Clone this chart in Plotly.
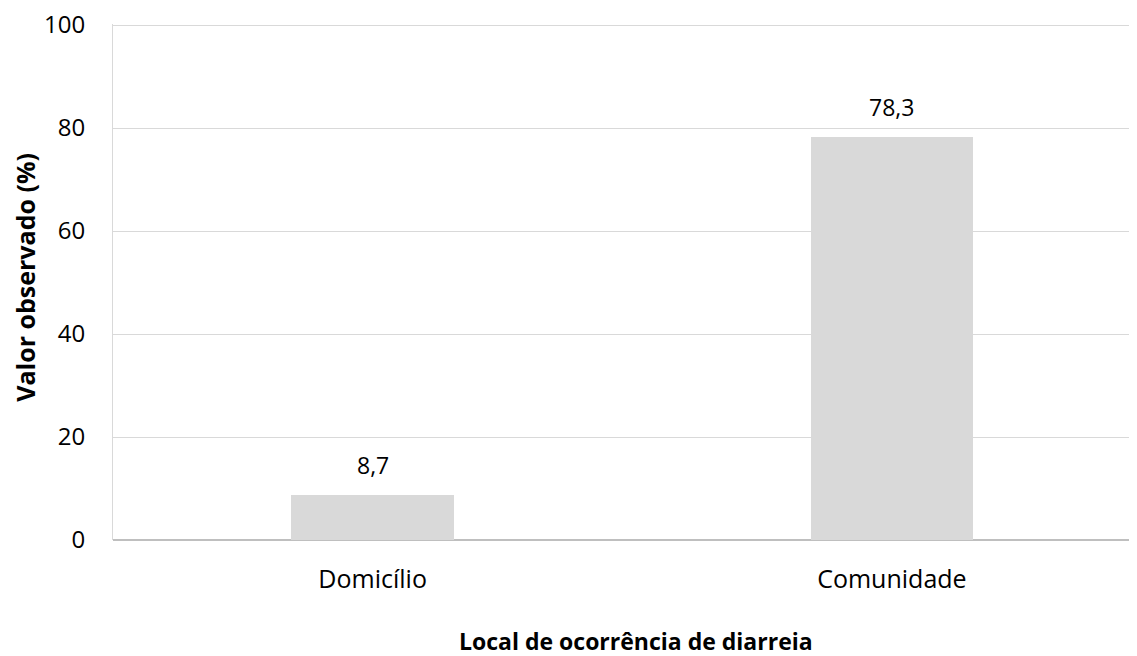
import plotly.graph_objects as go

categories = ["Domicílio", "Comunidade"]
values = [8.7, 78.3]
y_ticks = [0, 20, 40, 60, 80, 100]

FONT = "Open Sans"

fig = go.Figure()
fig.add_trace(go.Bar(
    x=categories, y=values,
    marker=dict(color="#d9d9d9", line=dict(width=0)),
    width=0.313,
    hoverinfo="skip",
))

for c, v in zip(categories, values):
    fig.add_annotation(
        x=c, y=v, xref="x", yref="y",
        text=f"{v:.1f}".replace(".", ","),
        showarrow=False, yanchor="bottom", yshift=12,
        font=dict(family=FONT, size=23, color="#000000"),
    )

fig.add_annotation(
    x=0.511, y=-0.196, xref="paper", yref="paper",
    text="<b>Local de ocorrência de diarreia</b>",
    showarrow=False, xanchor="center", yanchor="middle",
    font=dict(family=FONT, size=23, color="#000000"),
)
fig.add_annotation(
    x=-0.086, y=0.51, xref="paper", yref="paper",
    text="<b>Valor observado (%)</b>", textangle=-90,
    showarrow=False, xanchor="center", yanchor="middle",
    font=dict(family=FONT, size=25, color="#000000"),
)

# page body adds an 8px margin, so the figure is 8px smaller than the window
fig.update_layout(
    width=1129, height=648,
    margin=dict(l=105, r=0, t=16, b=116),
    paper_bgcolor="white", plot_bgcolor="white",
    showlegend=False,
    bargap=0,
)
fig.update_xaxes(
    type="category", range=[-0.5, 1.472],
    showgrid=False, showline=False, zeroline=False,
    ticks="", ticklabelstandoff=22,
    tickfont=dict(family=FONT, size=25, color="#000000"),
)
fig.update_yaxes(
    range=[0, 100.2], tickvals=y_ticks, ticktext=[str(t) for t in y_ticks],
    showgrid=True, gridcolor="#d9d9d9", gridwidth=1,
    zeroline=True, zerolinecolor="#bfbfbf", zerolinewidth=1.5,
    showline=True, linecolor="#d9d9d9", linewidth=1,
    ticks="", ticklabelstandoff=22, ticklabeloverflow="allow",
    tickfont=dict(family=FONT, size=24, color="#000000"),
)

fig.write_html("out.html")
